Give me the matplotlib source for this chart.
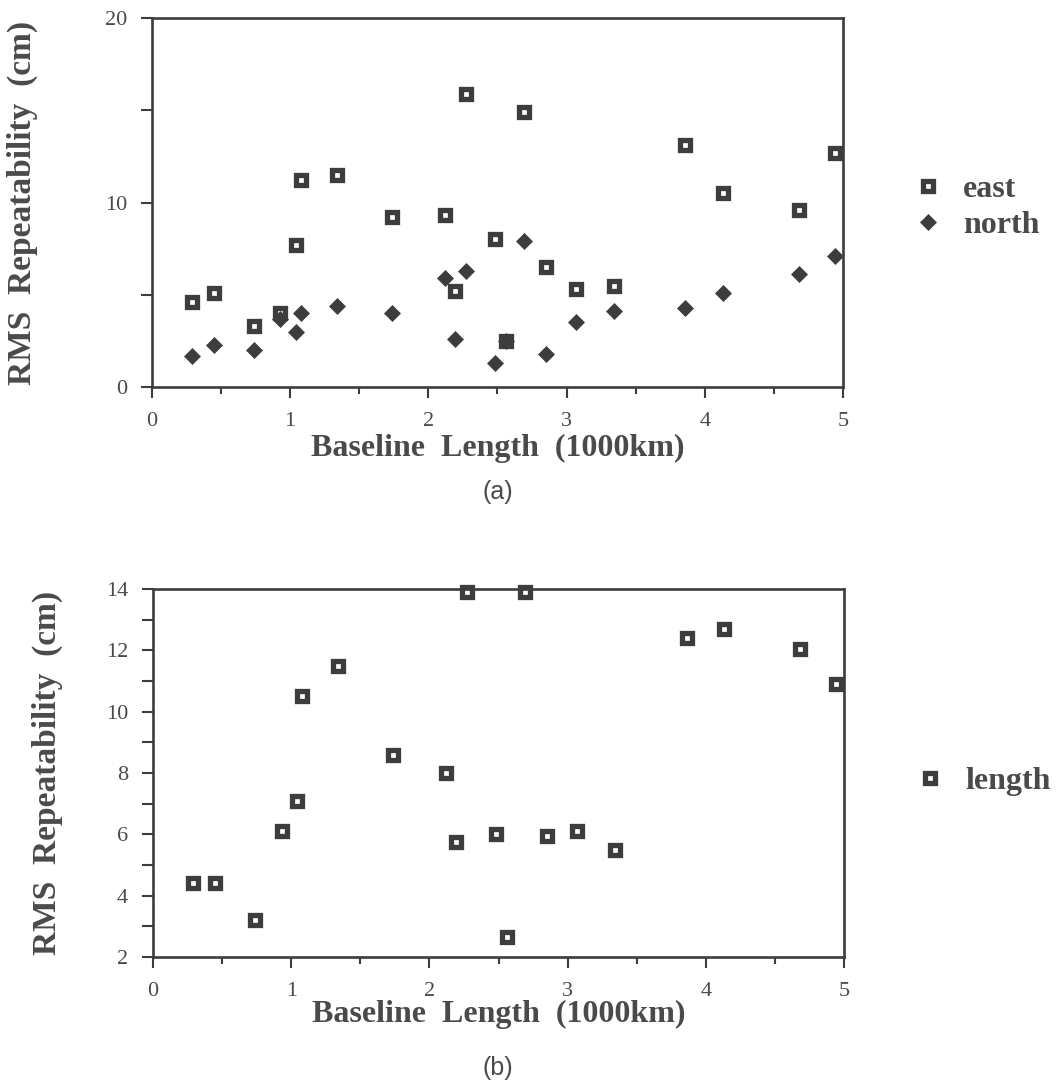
import matplotlib
matplotlib.use("Agg")
import matplotlib.pyplot as plt
from matplotlib.ticker import MultipleLocator

# baseline lengths (1000 km), same 21 baselines in both panels
baseline = [0.29, 0.45, 0.74, 0.93, 1.04, 1.08, 1.34, 1.74, 2.12, 2.19, 2.27,
            2.48, 2.56, 2.69, 2.85, 3.07, 3.34, 3.86, 4.13, 4.68, 4.94]

# panel (a): east / north repeatability (cm)
east = [4.6, 5.1, 3.3, 4.0, 7.7, 11.2, 11.5, 9.2, 9.3, 5.2, 15.9,
        8.0, 2.5, 14.9, 6.5, 5.3, 5.5, 13.1, 10.5, 9.6, 12.7]
north = [1.7, 2.3, 2.0, 3.7, 3.0, 4.0, 4.4, 4.0, 5.9, 2.6, 6.3,
         1.3, 2.5, 7.9, 1.8, 3.5, 4.1, 4.3, 5.1, 6.1, 7.1]

# panel (b): length repeatability (cm)
length = [4.4, 4.4, 3.2, 6.1, 7.1, 10.5, 11.5, 8.6, 8.0, 5.75, 13.9,
          6.0, 2.65, 13.9, 5.95, 6.1, 5.5, 12.4, 12.7, 12.05, 10.9]

ink = "#3d3d3d"
txt = "#4a4a4a"
serif = ["Liberation Serif", "DejaVu Serif"]

plt.rcParams["font.family"] = serif
plt.rcParams["text.color"] = txt
plt.rcParams["axes.labelcolor"] = txt

sq = dict(marker="s", ls="none", ms=7, mew=3.8, mfc="white", mec=ink, clip_on=False)
dia = dict(marker="D", ls="none", ms=8, mew=0.5, mfc=ink, mec=ink, clip_on=False)

fig = plt.figure(figsize=(10.56, 10.86), dpi=100)
ax1 = fig.add_axes([0.1439, 0.6436, 0.6544, 0.3398])
ax2 = fig.add_axes([0.1449, 0.1188, 0.6544, 0.3389])


def style(ax):
    for s in ax.spines.values():
        s.set_linewidth(1.9)
        s.set_color(ink)
    ax.xaxis.set_major_locator(MultipleLocator(1))
    ax.xaxis.set_minor_locator(MultipleLocator(0.5))
    ax.tick_params(which="both", direction="out", width=1.5, color=ink,
                   labelcolor=txt, labelsize=16, pad=10)
    ax.tick_params(which="major", length=8)
    ax.tick_params(which="minor", length=5)
    ax.tick_params(axis="y", which="minor", length=8)
    ax.set_xlim(0, 5)


# (a)
ax1.plot(baseline, east, label="east", **sq)
ax1.plot(baseline, north, label="north", **dia)
style(ax1)
ax1.set_ylim(0, 20)
ax1.yaxis.set_major_locator(MultipleLocator(10))
ax1.yaxis.set_minor_locator(MultipleLocator(5))
ax1.set_xlabel("Baseline  Length  (1000km)", fontsize=23, fontweight="bold", labelpad=2)
ax1.set_ylabel("RMS  Repeatability  (cm)", fontsize=24, fontweight="bold")
ax1.yaxis.set_label_coords(-0.165, 0.5)
ax1.legend(loc="center left", bbox_to_anchor=(1.058, 0.487), frameon=False,
           prop={"family": serif, "weight": "bold", "size": 23},
           handletextpad=0.6, labelspacing=0.22, handlelength=1.0)

# (b)
ax2.plot(baseline, length, label="length", **sq)
style(ax2)
ax2.set_ylim(2, 14)
ax2.yaxis.set_major_locator(MultipleLocator(2))
ax2.yaxis.set_minor_locator(MultipleLocator(1))
ax2.set_xlabel("Baseline  Length  (1000km)", fontsize=23, fontweight="bold", labelpad=-1)
ax2.set_ylabel("RMS  Repeatability  (cm)", fontsize=24, fontweight="bold")
ax2.yaxis.set_label_coords(-0.13, 0.5)
ax2.legend(loc="center left", bbox_to_anchor=(1.06, 0.478), frameon=False,
           prop={"family": serif, "weight": "bold", "size": 23},
           handletextpad=0.6, handlelength=1.0)

fig.text(0.4712, 1 - 492 / 1086, "(a)", ha="center", va="center",
         fontsize=18, family="Liberation Sans", color=txt)
fig.text(0.4712, 1 - 1068 / 1086, "(b)", ha="center", va="center",
         fontsize=18, family="Liberation Sans", color=txt)

fig.savefig("out.png", dpi=100, facecolor="white")
